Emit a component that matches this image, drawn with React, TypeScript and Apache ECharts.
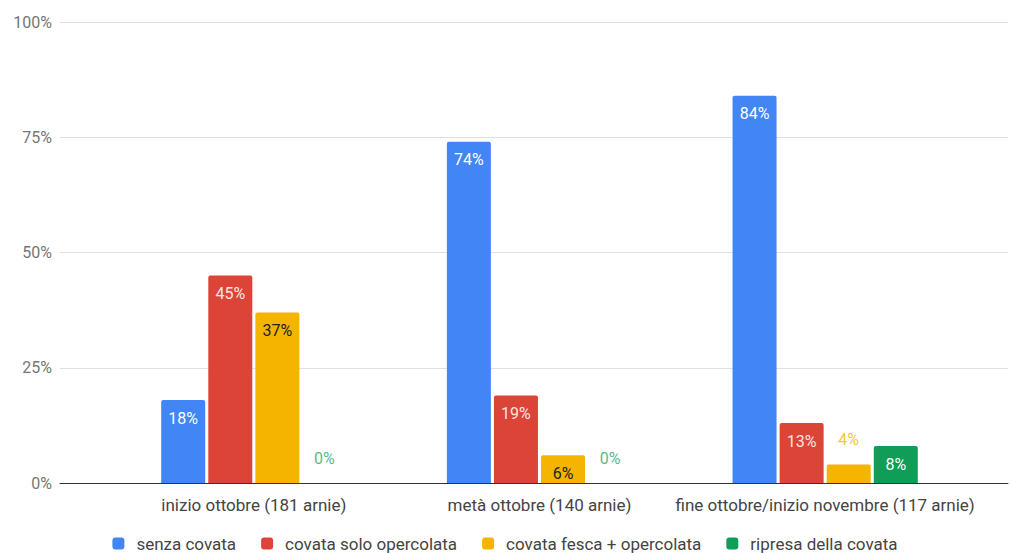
import React, { useEffect, useRef } from "react";
import * as echarts from "echarts";

const categories = [
  "inizio ottobre (181 arnie)",
  "metà ottobre (140 arnie)",
  "fine ottobre/inizio novembre (117 arnie)",
];
const seriesNames = [
  "senza covata",
  "covata solo opercolata",
  "covata fesca + opercolata",
  "ripresa della covata",
];
const senzaCovata = [18, 74, 84];
const soloOpercolata = [45, 19, 13];
const frescaOpercolata = [37, 6, 4];
const ripresa = [0, 0, 8];
const yTicks = [0, 25, 50, 75, 100];

const colors = ["#4285f4", "#db4437", "#f4b400", "#0f9d58"];
const insideLabelColors = ["#ffffff", "#fbe4e1", "#222222", "#ffffff"];
const outsideLabelColors = ["#4285f4", "#db4437", "#f2c744", "#5cb98a"];

const FONT = "Roboto, 'Noto Sans', sans-serif";

function buildItems(values: number[], idx: number) {
  return values.map((v) => ({
    value: v,
    label:
      v < 5
        ? { position: "top", distance: 17, color: outsideLabelColors[idx] }
        : { position: "insideTop", distance: 10, color: insideLabelColors[idx] },
  }));
}

export default function App() {
  const ref = useRef<HTMLDivElement>(null);

  useEffect(() => {
    document.body.style.margin = "0";
    if (!ref.current) return;
    const chart = echarts.init(ref.current, undefined, { renderer: "svg" });
    const allValues = [senzaCovata, soloOpercolata, frescaOpercolata, ripresa];

    chart.setOption({
      animation: false,
      backgroundColor: "#ffffff",
      textStyle: { fontFamily: FONT },
      legend: {
        top: 535,
        left: "center",
        padding: 0,
        itemWidth: 12,
        itemHeight: 12,
        itemGap: 25,
        icon: "roundRect",
        data: seriesNames,
        textStyle: { color: "#444444", fontSize: 17, fontFamily: FONT, padding: [0, 0, 0, 7] },
      },
      grid: [
        { left: 60, right: 2, top: 22, bottom: 70 },
        { left: 111, right: 42, top: 22, bottom: 70 },
      ],
      xAxis: [
        {
          type: "value",
          gridIndex: 0,
          min: 0,
          max: 1,
          axisLine: { show: true, onZero: false, lineStyle: { color: "#333333", width: 1 } },
          axisTick: { show: false },
          axisLabel: { show: false },
          splitLine: { show: false },
        },
        {
          type: "category",
          gridIndex: 1,
          data: categories,
          axisLine: { show: false },
          axisTick: { show: false },
          axisLabel: {
            interval: 0,
            color: "#444444",
            fontSize: 17,
            margin: 13,
            fontFamily: FONT,
          },
        },
      ],
      yAxis: [
        {
          type: "value",
          gridIndex: 0,
          min: yTicks[0],
          max: yTicks[yTicks.length - 1],
          interval: 25,
          axisLine: { show: false },
          axisTick: { show: false },
          axisLabel: {
            formatter: "{value}%",
            color: "#757575",
            fontSize: 16,
            margin: 8,
            fontFamily: FONT,
          },
          splitLine: { lineStyle: { color: "#e0e0e0", width: 1 } },
        },
        {
          type: "value",
          gridIndex: 1,
          min: 0,
          max: 100,
          show: false,
        },
      ],
      series: allValues.map((vals, i) => ({
        name: seriesNames[i],
        type: "bar",
        xAxisIndex: 1,
        yAxisIndex: 1,
        barWidth: 44,
        barGap: "7%",
        itemStyle: { color: colors[i], borderRadius: [2, 2, 0, 0] },
        label: {
          show: true,
          formatter: "{c}%",
          fontSize: 16,
          fontFamily: FONT,
        },
        data: buildItems(vals, i),
      })),
    });

    return () => chart.dispose();
  }, []);

  return (
    <div
      ref={ref}
      style={{ position: "absolute", left: 0, top: 0, width: 1010, height: 553 }}
    />
  );
}
